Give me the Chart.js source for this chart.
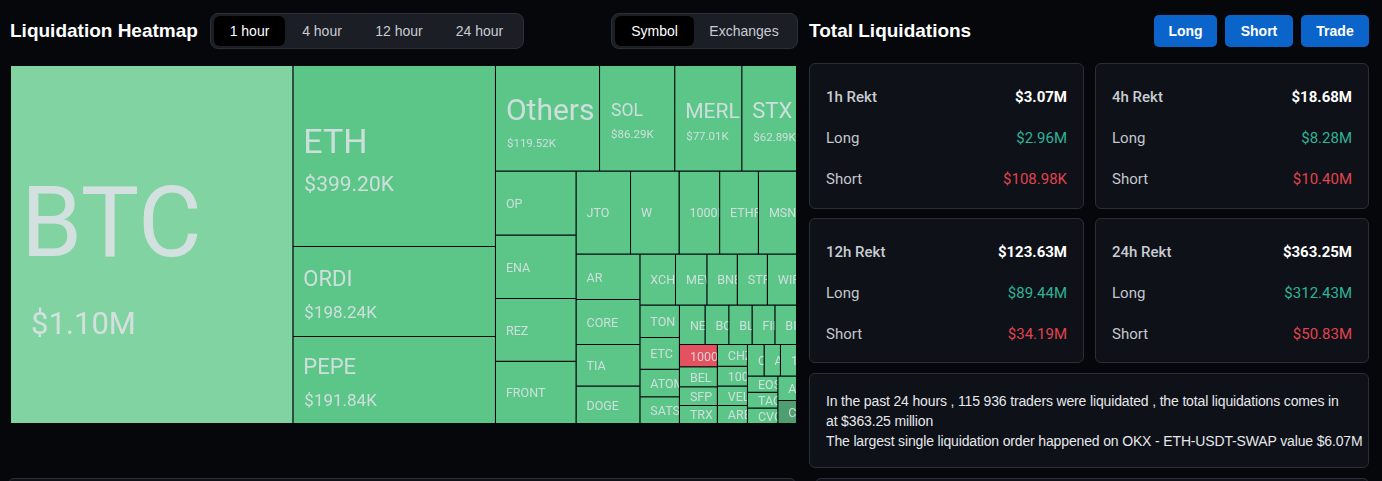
<!DOCTYPE html>
<html>
<head>
<meta charset="utf-8">
<title>Liquidation Heatmap</title>
<script src="https://cdn.jsdelivr.net/npm/chart.js@4.4.1/dist/chart.umd.min.js"></script>
<style>
  html, body { margin: 0; padding: 0; }
  body {
    width: 1382px; height: 481px; position: relative; overflow: hidden;
    background: #05070b; color: #fff;
    font-family: "Liberation Sans", Arial, sans-serif;
  }
  .title { position: absolute; top: 20px; font-size: 19px; line-height: 22px; font-weight: bold; }
  .tabs {
    position: absolute; top: 13px; height: 36px; box-sizing: border-box;
    background: #1b1e25; border: 1px solid #2b2f38; border-radius: 8px;
    display: flex; padding: 2px 3px;
  }
  .tabs span {
    display: flex; align-items: center; justify-content: center;
    font-size: 14px; color: #c9ccd3; border-radius: 6px;
  }
  .tabs span.on { background: #000; color: #fff; }
  .btn {
    position: absolute; top: 15px; height: 32px; line-height: 32px; text-align: center;
    background: #0b64c9; border-radius: 5px; font-size: 14px; font-weight: bold;
  }
  .card {
    position: absolute; box-sizing: border-box;
    background: #0e1117; border: 1px solid #2a2e37; border-radius: 6px;
  }
  .row {
    position: absolute; left: 16px; right: 16px; height: 20px;
    display: flex; justify-content: space-between; align-items: center;
    font-family: Roboto, sans-serif; font-size: 15px;
  }
  .lbl { color: #c8ccd3; font-weight: 500; }
  .sub { color: #c3c7ce; }
  .tot { color: #fff; font-weight: bold; }
  .long { color: #2eb397; }
  .short { color: #e04450; }
  .note {
    padding: 17px 0 0 16px; font-size: 14px; letter-spacing: -0.15px;
    line-height: 20px; color: #e6e8ec; white-space: nowrap;
  }
  #map { position: absolute; left: 11px; top: 66px; width: 786px; height: 358px; }
</style>
</head>
<body>
<div class="title" style="left:10px">Liquidation Heatmap</div>
<div class="tabs" style="left:210px;width:314px">
  <span class="on" style="width:71px">1 hour</span>
  <span style="width:74px">4 hour</span>
  <span style="width:80px">12 hour</span>
  <span style="width:81px">24 hour</span>
</div>
<div class="tabs" style="left:611px;width:187px">
  <span class="on" style="width:79px">Symbol</span>
  <span style="width:100px">Exchanges</span>
</div>

<div id="map"><canvas id="heatmap" width="786" height="358"></canvas></div>

<div class="title" style="left:809px">Total Liquidations</div>
<div class="btn" style="left:1154px;width:63px">Long</div>
<div class="btn" style="left:1225px;width:68px">Short</div>
<div class="btn" style="left:1301px;width:68px">Trade</div>

<div class="card" style="left:809px;top:63px;width:275px;height:146px">
  <div class="row" style="top:23px"><span class="lbl">1h Rekt</span><span class="tot">$3.07M</span></div>
  <div class="row" style="top:64px"><span class="sub">Long</span><span class="long">$2.96M</span></div>
  <div class="row" style="top:105px"><span class="sub">Short</span><span class="short">$108.98K</span></div>
</div>
<div class="card" style="left:1095px;top:63px;width:274px;height:146px">
  <div class="row" style="top:23px"><span class="lbl">4h Rekt</span><span class="tot">$18.68M</span></div>
  <div class="row" style="top:64px"><span class="sub">Long</span><span class="long">$8.28M</span></div>
  <div class="row" style="top:105px"><span class="sub">Short</span><span class="short">$10.40M</span></div>
</div>
<div class="card" style="left:809px;top:218px;width:275px;height:145px">
  <div class="row" style="top:23px"><span class="lbl">12h Rekt</span><span class="tot">$123.63M</span></div>
  <div class="row" style="top:64px"><span class="sub">Long</span><span class="long">$89.44M</span></div>
  <div class="row" style="top:105px"><span class="sub">Short</span><span class="short">$34.19M</span></div>
</div>
<div class="card" style="left:1095px;top:218px;width:274px;height:145px">
  <div class="row" style="top:23px"><span class="lbl">24h Rekt</span><span class="tot">$363.25M</span></div>
  <div class="row" style="top:64px"><span class="sub">Long</span><span class="long">$312.43M</span></div>
  <div class="row" style="top:105px"><span class="sub">Short</span><span class="short">$50.83M</span></div>
</div>
<div class="card" style="left:809px;top:373px;width:560px;height:95px">
  <div class="note">In the past 24 hours , 115 936 traders were liquidated , the total liquidations comes in<br>at $363.25 million<br>The largest single liquidation order happened on OKX - ETH-USDT-SWAP value $6.07M</div>
</div>
<div class="card" style="left:8px;top:478px;width:788px;height:30px"></div>
<div class="card" style="left:815px;top:478px;width:554px;height:30px"></div>

<script>
// 1 hour liquidations per symbol, in thousands of USD
const symbols = [
  'BTC', 'ETH', 'ORDI', 'PEPE', 'Others', 'SOL', 'MERL', 'STX',
  'OP', 'ENA', 'REZ', 'FRONT', 'JTO', 'W', '1000FLOKI', 'ETHFI', 'MSN',
  'AR', 'CORE', 'TIA', 'DOGE', 'XCH', 'MEW', 'BNB', 'STRK', 'WIF',
  'TON', 'ETC', 'ATOM', 'SATS', 'NEAR', 'BCH', 'BLUR', 'FIL', 'BIGTIME',
  '1000BONK', 'BEL', 'SFP', 'TRX', 'CHZ', '1000RATS', 'VELO', 'ARB',
  'CRV', 'AVAX', '1INCH', 'EOS', 'TAO', 'CVC', 'APT', 'CFX'
];
const liquidations = [
  1100, 399.20, 198.24, 191.84, 119.52, 86.29, 77.01, 62.89,
  56.1, 55.6, 55.0, 54.6, 49.2, 43.8, 36.6, 35.0, 34.4,
  31.6, 31.3, 28.8, 26.1, 19.8, 17.4, 16.9, 16.7, 16.2,
  14.0, 13.6, 11.9, 11.5, 11.0, 10.2, 10.0, 9.8, 9.3,
  9.2, 8.2, 7.8, 7.4, 7.1, 6.5, 6.4, 5.9,
  5.7, 5.6, 5.5, 5.4, 5.2, 5.1, 5.0, 4.7
];

const greenCell = '#5cc688';
const cellColors = { BTC: '#81d3a1', '1000BONK': '#e2525f', CFX: '#4f9e70' };
const gridLine = '#06080c';
const labelColor = 'rgba(224,227,234,0.86)';
// name size, value size, gap between them, left paddings, vertical shift
const labelStyle = {
  BTC:    { name: 98, value: 31, gap: 56, pad: 10, vpad: 20, shift: 15 },
  ETH:    { name: 34, value: 21, gap: 23, pad: 10, vpad: 11, shift: 3 },
  ORDI:   { name: 22, value: 17, gap: 20, pad: 10, vpad: 11, shift: 2 },
  PEPE:   { name: 22, value: 17, gap: 20, pad: 10, vpad: 11, shift: 2 },
  Others: { name: 30, value: 11.5, gap: 18, pad: 10, vpad: 11, shift: 4 },
  SOL:    { name: 17.5, value: 11.5, gap: 13, pad: 11, vpad: 11, shift: 2 },
  MERL:   { name: 21, value: 11.5, gap: 14, pad: 10, vpad: 11, shift: 3 },
  STX:    { name: 22, value: 11.5, gap: 14, pad: 10, vpad: 11, shift: 3 }
};
const smallLabel = { name: 12.5, pad: 10 };

function money(k) {
  return k >= 1000 ? '$' + (k / 1000).toFixed(2) + 'M' : '$' + k.toFixed(2) + 'K';
}

// squarified layout, same steps as the echarts treemap (golden ratio target)
function squarify(values, W, H, ratio) {
  const out = values.map(() => ({ x: 0, y: 0, w: 0, h: 0 }));
  if (!(W > 0 && H > 0)) return out;
  const total = values.reduce((a, b) => a + b, 0);
  const k = W * H / total;
  const items = values.map((v, i) => ({ i, area: v * k })).sort((a, b) => b.area - a.area);
  const rect = { x: 0, y: 0, w: W, h: H };
  let fixed = Math.min(W, H), best = Infinity, row = [], rowArea = 0;

  const worst = () => {
    let max = 0, min = Infinity;
    row.forEach(it => { max = Math.max(max, it.area); min = Math.min(min, it.area); });
    const sq = rowArea * rowArea, f = fixed * fixed * ratio;
    return sq ? Math.max(f * max / sq, sq / (f * min)) : Infinity;
  };
  const place = (flush) => {
    const horiz = fixed === rect.w;
    const span = horiz ? rect.h : rect.w;
    let other = rowArea / fixed;
    if (flush || other > span) other = span;
    let last = horiz ? rect.x : rect.y;
    const end = horiz ? rect.x + rect.w : rect.y + rect.h;
    row.forEach((it, j) => {
      const step = it.area / other;
      const len = (j === row.length - 1 || end - last < step) ? end - last : step;
      out[it.i] = horiz ? { x: last, y: rect.y, w: len, h: other } : { x: rect.x, y: last, w: other, h: len };
      last += len;
    });
    if (horiz) { rect.y += other; rect.h -= other; } else { rect.x += other; rect.w -= other; }
  };

  for (let n = 0; n < items.length;) {
    row.push(items[n]);
    rowArea += items[n].area;
    const score = worst();
    if (score <= best) { n++; best = score; }
    else {
      rowArea -= row.pop().area;
      place(false);
      fixed = Math.min(rect.w, rect.h);
      row = []; rowArea = 0; best = Infinity;
    }
  }
  if (row.length) place(true);
  return out;
}

class TreemapController extends Chart.DatasetController {
  static id = 'treemap';
  static defaults = { datasetElementType: false, dataElementType: 'bar' };
  static overrides = { scales: { x: { type: 'linear' }, y: { type: 'linear' } } };

  update(mode) {
    const meta = this._cachedMeta;
    this.updateElements(meta.data, 0, meta.data.length, mode);
  }

  updateElements(elements, start, count, mode) {
    const { xScale, yScale } = this._cachedMeta;
    const values = this.getDataset().data;
    const spanX = xScale.max - xScale.min, spanY = yScale.max - yScale.min;
    const rects = squarify(values, xScale.width, yScale.height, 0.5 * (1 + Math.sqrt(5)));
    for (let i = start; i < start + count; i++) {
      const r = rects[i];
      const vx0 = xScale.min + r.x / xScale.width * spanX;
      const vx1 = xScale.min + (r.x + r.w) / xScale.width * spanX;
      const vy0 = yScale.min + r.y / yScale.height * spanY;
      const vy1 = yScale.min + (r.y + r.h) / yScale.height * spanY;
      const left = xScale.getPixelForValue(vx0), right = xScale.getPixelForValue(vx1);
      const top = yScale.getPixelForValue(vy0), bottom = yScale.getPixelForValue(vy1);
      this.updateElement(elements[i], i, {
        x: (left + right) / 2,
        y: Math.min(top, bottom),
        base: Math.max(top, bottom),
        width: Math.abs(right - left) || 0,
        height: Math.abs(bottom - top) || 0,
        horizontal: false,
        inflateAmount: 0,
        enableBorderRadius: false,
        borderSkipped: { top: false, bottom: false, left: false, right: false },
        options: this.resolveDataElementOptions(i, mode)
      }, mode);
    }
  }

  draw() {
    super.draw();
    const ctx = this.chart.ctx;
    const names = this.chart.data.labels;
    const values = this.getDataset().data;
    this._cachedMeta.data.forEach((el, i) => {
      const { x, y, base, width } = el.getProps(['x', 'y', 'base', 'width'], true);
      const left = x - width / 2, top = y, h = base - y;
      if (width < 2 || h < 2) return;
      const st = labelStyle[names[i]] || smallLabel;
      ctx.save();
      ctx.beginPath();
      ctx.rect(left, top, width - 1, h - 1);
      ctx.clip();
      ctx.fillStyle = labelColor;
      ctx.textAlign = 'left';
      ctx.textBaseline = 'alphabetic';
      const cy = top + h / 2;
      const capN = st.name * 0.711;
      ctx.font = st.name + 'px Roboto, sans-serif';
      if (st.value) {
        const capV = st.value * 0.711;
        const nameBase = cy - (capN + st.gap + capV) / 2 + capN + st.shift;
        ctx.fillText(names[i], left + st.pad, nameBase);
        ctx.font = st.value + 'px Roboto, sans-serif';
        ctx.fillText(money(values[i]), left + st.vpad, nameBase + st.gap + capV);
      } else {
        ctx.fillText(names[i], left + st.pad, cy + capN / 2);
      }
      ctx.restore();
    });
  }
}
Chart.register(TreemapController);

new Chart(document.getElementById('heatmap'), {
  type: 'treemap',
  data: {
    labels: symbols,
    datasets: [{
      label: 'Liquidations (K USD)',
      data: liquidations,
      backgroundColor: symbols.map(s => cellColors[s] || greenCell),
      borderColor: gridLine,
      borderWidth: { top: 0, left: 0, right: 1, bottom: 1 },
      borderRadius: 0
    }]
  },
  options: {
    responsive: false,
    animation: false,
    events: [],
    layout: { padding: 0 },
    plugins: { legend: { display: false }, tooltip: { enabled: false } },
    scales: {
      x: { type: 'linear', display: false, min: 0, max: 100 },
      y: { type: 'linear', display: false, min: 0, max: 100, reverse: true }
    }
  }
});
</script>
</body>
</html>
